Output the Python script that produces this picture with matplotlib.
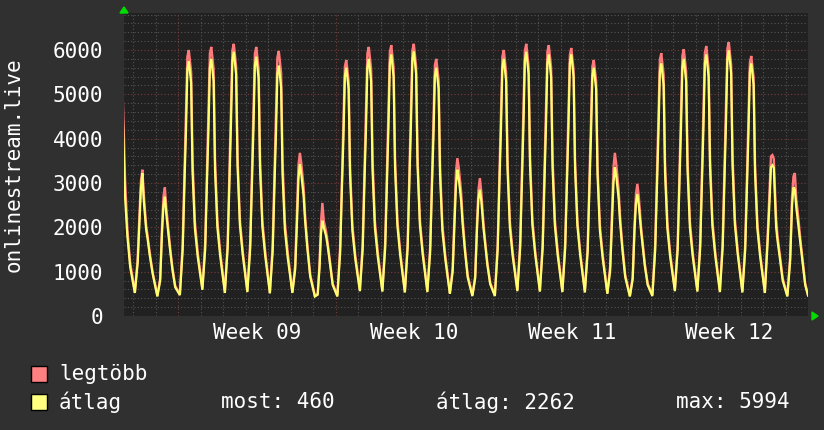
import numpy as np
import matplotlib
matplotlib.use('Agg')
from matplotlib import pyplot as plt
from matplotlib.patches import Polygon, Rectangle

# sample hours inside each day, day index relative to Monday of week 09
day_hours = [2, 5, 7, 8.5, 10, 11.5, 14, 15.5, 18, 21]
days = list(range(-3, 28))

# átlag (average) per day at day_hours
avg_rows = [
    [500, 1500, 3000, 4200, 5500, 5700, 3800, 2700, 1800, 1100],   # -3 Fri
    [520, 1200, 2200, 2900, 3220, 2600, 1950, 1750, 1350, 950],    # -2 Sat
    [440, 800, 1900, 2500, 2690, 2300, 1800, 1500, 1050, 650],     # -1 Sun
    [470, 1490, 3070, 4160, 5550, 5750, 5260, 3270, 1980, 1340],   # 0
    [590, 1500, 3100, 4200, 5600, 5800, 5300, 3300, 2000, 1350],
    [520, 1540, 3180, 4320, 5760, 5960, 5450, 3390, 2060, 1390],
    [540, 1520, 3120, 4240, 5650, 5850, 5350, 3330, 2020, 1360],
    [510, 1460, 3020, 4090, 5460, 5650, 5160, 3210, 1950, 1320],
    [520, 1050, 2150, 3100, 3430, 3200, 2700, 2165, 1520, 890],    # 5 Sat
    [440, 480, 1100, 1850, 2150, 2000, 1800, 1600, 1200, 700],     # 6 Sun
    [440, 1450, 2990, 4050, 5410, 5600, 5120, 3190, 1930, 1300],   # 7
    [560, 1500, 3100, 4200, 5600, 5800, 5300, 3300, 2000, 1350],
    [550, 1530, 3150, 4270, 5700, 5900, 5390, 3360, 2040, 1370],
    [530, 1550, 3190, 4320, 5770, 5970, 5460, 3400, 2060, 1390],
    [540, 1450, 2990, 4050, 5410, 5600, 5120, 3190, 1930, 1300],
    [500, 1000, 2100, 2950, 3300, 3100, 2600, 2100, 1480, 870],    # 12 Sat
    [450, 850, 2000, 2650, 2850, 2600, 1950, 1650, 1150, 720],     # 13 Sun
    [450, 1500, 3100, 4200, 5600, 5800, 5300, 3300, 2000, 1350],   # 14
    [560, 1540, 3180, 4320, 5760, 5960, 5450, 3390, 2060, 1390],
    [550, 1530, 3150, 4270, 5700, 5900, 5390, 3360, 2040, 1370],
    [540, 1530, 3150, 4270, 5700, 5900, 5390, 3360, 2040, 1370],
    [530, 1450, 2990, 4050, 5410, 5600, 5120, 3190, 1930, 1300],
    [500, 1030, 2150, 3000, 3350, 3150, 2650, 2130, 1500, 880],    # 19 Sat
    [440, 830, 1950, 2550, 2750, 2500, 1900, 1600, 1120, 700],     # 20 Sun
    [450, 1480, 3040, 4130, 5510, 5700, 5210, 3240, 1970, 1330],   # 21
    [560, 1500, 3100, 4200, 5600, 5800, 5300, 3300, 2000, 1350],
    [550, 1530, 3150, 4270, 5700, 5900, 5390, 3360, 2040, 1370],
    [540, 1550, 3200, 4340, 5790, 5994, 5480, 3410, 2070, 1400],
    [530, 1480, 3040, 4130, 5510, 5700, 5210, 3240, 1970, 1330],
    [520, 1700, 2600, 3350, 3400, 3350, 2000, 1700, 1300, 800],    # 26 Sat
    [440, 1250, 2500, 2900, 2850, 2450, 2000, 1710, 1250, 700],    # 27 Sun
]

# legtöbb (maximum) per day at day_hours
max_rows = [
    [520, 1600, 3200, 4600, 5800, 6000, 4300, 3100, 1950, 1200],
    [540, 1300, 2350, 3050, 3300, 2750, 2050, 1820, 1400, 980],
    [460, 850, 2050, 2700, 2900, 2450, 1880, 1560, 1100, 680],
    [500, 1640, 3320, 4660, 5850, 6000, 5500, 3520, 2130, 1440],
    [620, 1660, 3360, 4720, 5920, 6070, 5570, 3560, 2150, 1460],
    [550, 1680, 3400, 4770, 5990, 6140, 5630, 3600, 2180, 1470],
    [570, 1660, 3360, 4720, 5920, 6070, 5570, 3560, 2150, 1460],
    [540, 1630, 3310, 4650, 5830, 5980, 5480, 3510, 2120, 1440],
    [540, 1150, 2400, 3400, 3680, 3450, 2900, 2300, 1600, 940],
    [460, 500, 1200, 2100, 2550, 2150, 1900, 1680, 1250, 730],
    [470, 1580, 3200, 4490, 5630, 5775, 5300, 3390, 2050, 1390],
    [590, 1660, 3360, 4720, 5920, 6070, 5570, 3560, 2150, 1460],
    [570, 1670, 3380, 4750, 5960, 6110, 5600, 3590, 2170, 1470],
    [550, 1680, 3400, 4770, 5990, 6140, 5630, 3600, 2180, 1470],
    [570, 1580, 3210, 4510, 5660, 5800, 5320, 3400, 2060, 1390],
    [520, 1100, 2300, 3250, 3560, 3350, 2800, 2230, 1560, 920],
    [470, 900, 2150, 2850, 3110, 2800, 2050, 1720, 1200, 750],
    [480, 1640, 3320, 4660, 5850, 6000, 5500, 3520, 2130, 1440],
    [590, 1680, 3400, 4770, 5990, 6140, 5630, 3600, 2180, 1470],
    [570, 1670, 3380, 4750, 5960, 6110, 5600, 3590, 2170, 1470],
    [560, 1650, 3350, 4700, 5890, 6045, 5540, 3550, 2150, 1450],
    [560, 1580, 3200, 4490, 5630, 5775, 5300, 3390, 2050, 1390],
    [520, 1130, 2380, 3350, 3680, 3420, 2850, 2260, 1580, 930],
    [460, 880, 2080, 2750, 2980, 2700, 2000, 1680, 1170, 730],
    [480, 1620, 3290, 4610, 5780, 5930, 5440, 3480, 2110, 1420],
    [590, 1640, 3340, 4680, 5870, 6020, 5520, 3530, 2140, 1440],
    [580, 1660, 3370, 4730, 5940, 6090, 5580, 3570, 2160, 1460],
    [570, 1690, 3420, 4800, 6030, 6180, 5670, 3630, 2190, 1480],
    [560, 1600, 3250, 4560, 5720, 5865, 5380, 3440, 2080, 1410],
    [540, 1850, 2850, 3600, 3630, 3550, 2200, 1800, 1380, 850],
    [460, 1350, 2700, 3150, 3225, 2650, 2150, 1800, 1320, 740],
]
last_avg = 460
last_max = 480

week_labels = ['Week 09', 'Week 10', 'Week 11', 'Week 12']
legend_texts = ['most: 460', 'átlag: 2262', 'max: 5994']

W, H = 824, 430
bg = '#303030'
plot_bg = '#212121'
red = '#ff7b7b'
yellow = '#ffff6e'
font = 'DejaVu Sans Mono'

t = (np.array(days)[:, None] * 24 + np.array(day_hours)[None, :]).ravel()
t = np.append(t, 672)
avg = np.append(np.array(avg_rows).ravel(), last_avg)
mx = np.append(np.array(max_rows).ravel(), last_max)

fig = plt.figure(figsize=(W / 100, H / 100), dpi=100, facecolor=bg)
ax = fig.add_axes([124 / W, 1 - 316 / H, (808 - 124) / W, (316 - 13) / H])
ax.set_facecolor(plot_bg)
ax.set_xlim(-57.6, 672)
ax.set_ylim(0, 6835)

# grid: minor every 200 / every day, major every 1000 / every week
for y in range(0, 6835, 200):
    if y % 1000 == 0:
        ax.axhline(y, color='#7a3c3c', lw=0.8, ls=(0, (1, 2)), zorder=1)
    else:
        ax.axhline(y, color='#555555', lw=0.8, ls=(0, (1, 2)), zorder=1)
for d in range(-2, 29):
    x = d * 24
    if d % 7 == 0:
        ax.axvline(x, color='#7a3c3c', lw=0.8, ls=(0, (1, 2)), zorder=1)
    else:
        ax.axvline(x, color='#555555', lw=0.8, ls=(0, (1, 2)), zorder=1)

ax.plot(t, mx, color=red, lw=1.7, zorder=3, solid_joinstyle='miter')
ax.plot(t, avg, color=yellow, lw=1.6, zorder=4, solid_joinstyle='miter')

for s in ax.spines.values():
    s.set_visible(False)

ax.set_yticks(range(0, 7000, 1000))
ax.set_yticklabels([str(v) for v in range(0, 7000, 1000)], fontfamily=font, fontsize=15, color='white')
ax.set_xticks([84, 252, 420, 588])
ax.set_xticklabels(week_labels, fontfamily=font, fontsize=15, color='white')
ax.tick_params(axis='y', length=0, pad=15)
ax.tick_params(axis='x', length=0, pad=5)

fig.text(14 / W, 1 - 165 / H, 'onlinestream.live', rotation=90, ha='center', va='center',
         fontfamily=font, fontsize=15, color='white')

# green arrows
fig.patches.append(Polygon([(120 / W, 1 - 13 / H), (128 / W, 1 - 13 / H), (124 / W, 1 - 7 / H)],
                           closed=True, color='#00dd00', transform=fig.transFigure))
fig.patches.append(Polygon([(812 / W, 1 - 312 / H), (812 / W, 1 - 320 / H), (818 / W, 1 - 316 / H)],
                           closed=True, color='#00dd00', transform=fig.transFigure))

# legend
for yc, col, lab in [(374, '#ff8080', 'legtöbb'), (402, '#ffff80', 'átlag')]:
    fig.patches.append(Rectangle((31 / W, 1 - (yc + 8) / H), 16 / W, 16 / H, facecolor=col,
                                 edgecolor='black', lw=1, transform=fig.transFigure))
    fig.text(59 / W, 1 - yc / H, lab, ha='left', va='center', fontfamily=font, fontsize=15, color='white')
for x0, txt in zip([221, 436, 676], legend_texts):
    fig.text(x0 / W, 1 - 402 / H, txt, ha='left', va='center', fontfamily=font, fontsize=15, color='white')

fig.savefig('out.png', dpi=100, facecolor=bg)
